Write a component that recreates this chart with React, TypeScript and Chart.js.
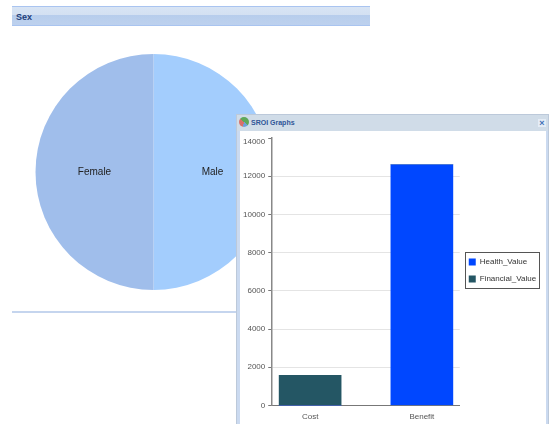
import React, { useEffect, useRef } from "react";
import { Chart, registerables, CategoryScale } from "chart.js";

class InsetCategoryScale extends CategoryScale {
  static id = "insetCategory";
  static defaults = CategoryScale.defaults;
  configure() {
    super.configure();
    const inset = (this.options as any).inset ?? 0.5;
    (this as any)._startValue = (this as any).min - inset;
    (this as any)._valueRange = (this as any).max - (this as any).min + 2 * inset;
  }
}
Chart.register(...registerables, InsetCategoryScale as any);

const pieLabels = ["Male", "Female"];
const pieValues = [50, 50];
const pieColors = ["#A3CDFD", "#A0BEEB"];

const barCategories = ["Cost", "Benefit"];
const healthValues = [0, 12600];
const financialValues = [1570, 0];
const FONT = "'Liberation Sans', Arial, sans-serif";

const pieLabelPlugin = {
  id: "pieLabel",
  afterDatasetsDraw(chart: any) {
    const ctx = chart.ctx;
    ctx.save();
    ctx.font = `10px ${FONT}`;
    ctx.fillStyle = "#222";
    ctx.textAlign = "center";
    ctx.textBaseline = "middle";
    chart.getDatasetMeta(0).data.forEach((arc: any, i: number) => {
      const p = arc.tooltipPosition();
      ctx.fillText(pieLabels[i], p.x, p.y);
    });
    ctx.restore();
  },
};

const legendBoxPlugin = {
  id: "legendBox",
  afterLayout(chart: any) {
    const l = chart.legend;
    l.top -= 11;
    l.bottom -= 11;
    l.right += 7;
    l.adjustHitBoxes();
  },
  afterDraw(chart: any) {
    const l = chart.legend;
    const boxes = l.legendHitBoxes;
    const top = boxes[0].top - 6;
    const bottom = boxes[boxes.length - 1].top + boxes[boxes.length - 1].height + 6;
    const left = l.left + 5;
    const ctx = chart.ctx;
    ctx.save();
    ctx.strokeStyle = "#555";
    ctx.lineWidth = 1;
    ctx.strokeRect(Math.round(left) + 0.5, Math.round(top) + 0.5, Math.round(l.right - left) - 1, Math.round(bottom - top) - 1);
    ctx.restore();
  },
};

const topLabelPlugin = {
  id: "topLabel",
  beforeDraw(chart: any) {
    const items = chart.scales.y.getLabelItems();
    const top = items[items.length - 1];
    if (top && !top.__moved) {
      top.options.translation[1] += 4;
      top.__moved = true;
    }
  },
};

export default function App() {
  const pieRef = useRef<HTMLCanvasElement>(null);
  const barRef = useRef<HTMLCanvasElement>(null);

  useEffect(() => {
    const pie = new Chart(pieRef.current!, {
      type: "pie",
      data: {
        labels: pieLabels,
        datasets: [{ data: pieValues, backgroundColor: pieColors, borderWidth: 0 }],
      },
      options: {
        animation: false,
        responsive: false,
        layout: { padding: 2 },
        plugins: { legend: { display: false }, tooltip: { enabled: false } },
      },
      plugins: [pieLabelPlugin],
    } as any);

    const bar = new Chart(barRef.current!, {
      type: "bar",
      data: {
        labels: barCategories,
        datasets: [
          { label: "Health_Value", data: healthValues, backgroundColor: "#0047FF", barThickness: 62 },
          { label: "Financial_Value", data: financialValues, backgroundColor: "#245664", barThickness: 62 },
        ],
      },
      options: {
        animation: false,
        responsive: false,
        layout: { padding: { top: 8, left: 0, right: 13, bottom: 1 } },
        plugins: {
          tooltip: { enabled: false },
          legend: {
            position: "right",
            align: "center",
            labels: {
              font: { family: FONT, size: 8 },
              color: "#333",
              boxWidth: 7,
              boxHeight: 7,
              padding: 9,
            },
          },
        },
        scales: {
          x: {
            type: "insetCategory",
            inset: 0.339,
            stacked: true,
            grid: { display: false, drawTicks: true, tickLength: 4, tickColor: "#888" },
            border: { color: "#777", width: 1 },
            ticks: { font: { family: FONT, size: 8 }, color: "#555", padding: 3, maxRotation: 0 },
          },
          y: {
            stacked: true,
            min: 0,
            max: 14000,
            grid: {
              color: (c: any) => (c.tick && c.tick.value === 14000 ? "rgba(0,0,0,0)" : "#E4E4E4"),
              tickColor: "#777",
              tickLength: 4,
            },
            border: { color: "#888", width: 1.5 },
            ticks: {
              stepSize: 2000,
              font: { family: FONT, size: 8 },
              color: "#555",
              padding: 3,
              callback: (v: any) => String(v),
            },
          },
        },
      },
      plugins: [legendBoxPlugin, topLabelPlugin],
    } as any);

    return () => {
      pie.destroy();
      bar.destroy();
    };
  }, []);

  return (
    <div style={{ position: "absolute", left: 0, top: 0, width: 554, height: 424, overflow: "hidden", background: "#fff" }}>
      <div
        style={{
          position: "absolute", left: 12, top: 6, width: 358, height: 20, boxSizing: "border-box",
          borderTop: "1px solid #A9C4F0", borderBottom: "1px solid #A9C4F0",
          background: "linear-gradient(#D8E4F4 0%, #D3E0F2 45%, #B7CDEC 46%, #BDD1EE 100%)",
          font: `bold 9px ${FONT}`, color: "#1F3F7A", lineHeight: "21px", paddingLeft: 4,
        }}
      >
        Sex
      </div>
      <canvas ref={pieRef} width={241} height={240} style={{ position: "absolute", left: 33, top: 52 }} />
      <div style={{ position: "absolute", left: 12, top: 311, width: 226, height: 2, background: "#C5D5EE" }} />
      <div
        style={{
          position: "absolute", left: 236, top: 114, width: 313, height: 320, boxSizing: "border-box",
          background: "#CBDAF0", border: "1px solid #BCC9DA",
        }}
      >
        <div style={{ position: "absolute", left: 0, top: 0, right: 0, height: 16, background: "#D0DCE8" }}>
          <div
            style={{
              position: "absolute", left: 2, top: 2, width: 10, height: 10, borderRadius: "50%",
              background: "conic-gradient(#5FA85A 0 35%, #6FA0D8 35% 55%, #D8706A 55% 85%, #5FA85A 85%)",
            }}
          />
          <div style={{ position: "absolute", left: 14, top: 0, font: `bold 7px ${FONT}`, color: "#2F5597", lineHeight: "15px" }}>
            SROI Graphs
          </div>
          <div
            style={{
              position: "absolute", right: 2, top: 4, width: 8, height: 8, background: "#E4ECF6",
              font: `bold 9px ${FONT}`, color: "#3F6FB5", lineHeight: "8px", textAlign: "center",
            }}
          >
            ×
          </div>
        </div>
        <div style={{ position: "absolute", left: 3, top: 16, width: 306, bottom: 0, background: "#fff" }} />
      </div>
      <canvas ref={barRef} width={306} height={296} style={{ position: "absolute", left: 240, top: 130 }} />
    </div>
  );
}
